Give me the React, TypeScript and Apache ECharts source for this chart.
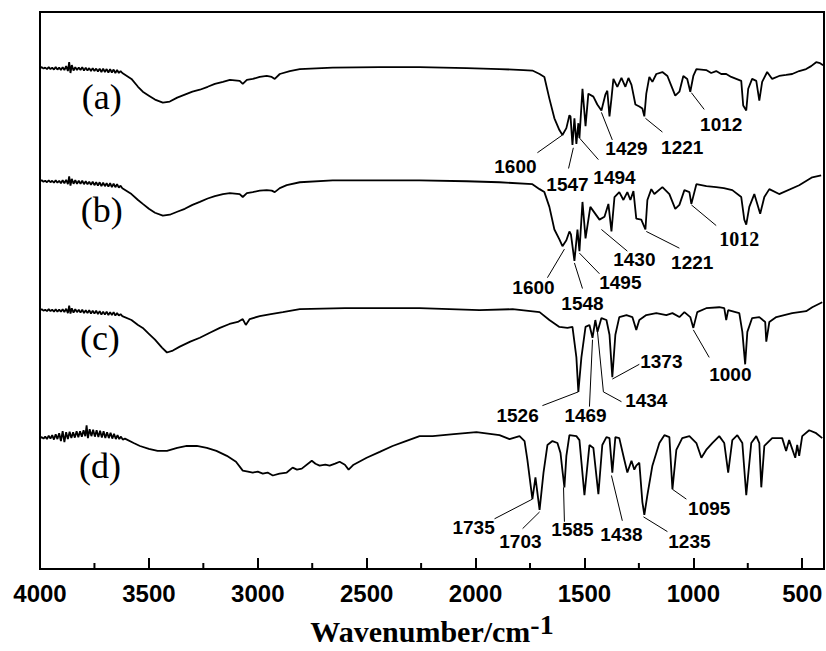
import { useEffect, useRef } from 'react';
import * as echarts from 'echarts';

// x axis: wavenumber (cm-1), inverted; y axis: transmittance (a.u., stacked offsets)
const tickLabels = [4000, 3500, 3000, 2500, 2000, 1500, 1000, 500];
const minorTicks = [3750, 3250, 2750, 2250, 1750, 1250, 750];

const traceA: [number, number][] = [
  [4000,101.8],[3992,102.0],[3984,101.7],[3976,101.9],[3968,101.6],[3960,102.0],[3952,101.6],[3944,101.9],[3936,101.5],[3928,102.0],[3920,101.5],[3912,101.9],[3904,101.4],[3896,102.0],[3888,101.4],[3880,102.2],[3872,101.2],[3866,103.0],[3860,100.8],[3854,102.4],[3846,101.3],[3838,102.0],[3830,101.4],[3822,101.9],[3814,101.4],[3806,102.0],[3798,101.3],[3790,101.9],[3782,101.3],[3774,101.8],[3766,101.2],[3758,101.8],[3750,101.2],[3742,101.7],[3734,101.1],[3726,101.7],[3718,101.0],[3710,101.7],[3702,101.0],[3694,101.6],[3686,100.9],[3678,101.6],[3670,100.9],[3662,101.5],[3654,100.8],[3646,101.4],[3638,100.8],[3630,101.2],[3622,100.8],
  [3580,99.6],[3550,98.0],[3528,97.0],[3500,96.2],[3472,95.4],[3436,94.8],[3404,95.0],[3370,95.8],[3335,96.4],[3300,97.0],[3266,97.4],[3230,98.0],[3197,98.6],[3160,99.0],[3128,99.4],[3083,99.2],[3069,98.6],[3050,99.4],[3023,99.6],[2991,100.0],[2959,100.2],[2936,100.0],[2922,99.6],[2899,100.6],[2853,101.2],[2807,101.6],[2656,101.9],[2440,102.0],[2257,102.0],[2041,101.8],[1890,101.6],[1780,101.4],[1739,101.3],[1706,100.6],[1684,100.0],[1661,95.6],[1638,91.6],[1615,89.2],[1601,88.2],[1583,89.6],[1569,92.2],[1564,92.0],[1555,86.2],[1546,91.6],[1537,86.4],[1528,90.6],[1523,87.6],[1509,97.6],[1495,90.0],[1482,96.6],[1459,96.0],[1441,94.4],[1422,93.2],[1404,96.4],[1395,97.2],[1385,92.0],[1376,95.6],[1367,99.6],[1349,98.0],[1330,99.8],[1312,98.0],[1298,99.8],[1284,98.4],[1266,94.4],[1248,94.0],[1234,93.6],[1225,92.0],[1216,96.6],[1202,100.0],[1188,99.0],[1170,100.6],[1142,101.0],[1119,100.2],[1101,98.2],[1083,96.2],[1064,97.0],[1046,100.2],[1028,99.6],[1014,97.0],[1000,100.2],[986,101.6],[941,101.4],[918,100.8],[895,101.2],[872,100.6],[849,100.6],[826,100.0],[803,99.6],[780,99.2],[771,94.2],[757,93.2],[748,97.6],[730,99.6],[711,99.2],[697,95.2],[684,99.0],[661,101.0],[638,99.6],[606,100.2],[574,100.4],[546,100.6],[514,101.2],[482,101.6],[459,102.2],[436,103.0],[418,102.8],[404,102.4]
];

const traceB: [number, number][] = [
  [4000,78.8],[3992,79.0],[3984,78.7],[3976,78.9],[3968,78.6],[3960,79.0],[3952,78.6],[3944,78.9],[3936,78.5],[3928,79.0],[3920,78.5],[3912,78.9],[3904,78.4],[3896,79.0],[3888,78.4],[3880,79.1],[3872,78.2],[3866,79.8],[3860,77.9],[3854,79.3],[3846,78.3],[3838,79.0],[3830,78.3],[3822,78.9],[3814,78.3],[3806,78.9],[3798,78.2],[3790,78.8],[3782,78.2],[3774,78.7],[3766,78.1],[3758,78.7],[3750,78.0],[3742,78.6],[3734,77.9],[3726,78.6],[3718,77.8],[3710,78.5],[3702,77.8],[3694,78.4],[3686,77.7],[3678,78.4],[3670,77.6],[3662,78.3],[3654,77.6],[3646,78.2],[3638,77.5],[3630,77.9],[3622,77.4],
  [3580,76.2],[3550,75.0],[3528,74.2],[3500,73.2],[3472,72.4],[3436,71.8],[3404,72.0],[3370,72.6],[3335,73.2],[3300,74.0],[3266,74.6],[3230,75.3],[3197,75.8],[3160,76.2],[3128,76.4],[3083,76.2],[3069,75.6],[3050,76.4],[3023,76.6],[2991,76.9],[2959,77.0],[2936,76.9],[2922,76.6],[2899,77.4],[2867,78.0],[2807,78.6],[2656,79.0],[2440,79.0],[2257,79.0],[2041,78.8],[1890,78.6],[1739,78.2],[1706,77.2],[1684,76.6],[1661,73.6],[1638,69.0],[1615,67.0],[1601,65.6],[1583,66.8],[1569,68.6],[1562,68.0],[1546,62.6],[1532,69.0],[1523,64.6],[1509,74.6],[1495,67.2],[1473,73.6],[1431,71.0],[1408,71.6],[1390,74.2],[1376,68.6],[1362,75.6],[1340,76.6],[1321,75.0],[1303,76.6],[1289,75.0],[1275,76.8],[1262,71.2],[1239,71.0],[1220,69.0],[1211,75.0],[1193,77.2],[1179,76.2],[1142,77.6],[1110,76.2],[1083,73.2],[1064,74.0],[1041,77.0],[1018,76.6],[1009,74.2],[986,78.2],[940,77.8],[895,77.6],[860,77.4],[821,77.0],[780,75.6],[766,71.0],[757,70.0],[743,73.6],[720,76.2],[693,72.2],[674,75.6],[651,77.2],[606,76.2],[514,78.0],[454,79.6],[413,80.0]
];

const traceC: [number, number][] = [
  [4000,52.6],[3992,52.8],[3984,52.5],[3976,52.7],[3968,52.4],[3960,52.8],[3952,52.4],[3944,52.7],[3936,52.3],[3928,52.8],[3920,52.3],[3912,52.7],[3904,52.3],[3896,52.8],[3888,52.2],[3880,52.9],[3872,52.0],[3866,53.5],[3860,51.9],[3854,53.0],[3846,52.1],[3838,52.8],[3830,52.2],[3822,52.7],[3814,52.1],[3806,52.7],[3798,52.0],[3790,52.6],[3782,52.0],[3774,52.6],[3766,51.9],[3758,52.5],[3750,51.9],[3742,52.5],[3734,51.8],[3726,52.4],[3718,51.7],[3710,52.3],[3702,51.7],[3694,52.3],[3686,51.6],[3678,52.2],[3670,51.6],[3662,52.2],[3654,51.5],[3646,52.0],[3638,51.5],[3630,51.8],[3622,51.4],
  [3580,50.6],[3550,49.6],[3528,49.0],[3500,47.8],[3472,46.6],[3440,45.0],[3417,44.0],[3390,44.4],[3358,45.2],[3310,46.2],[3266,47.0],[3220,48.0],[3174,49.0],[3130,49.8],[3092,50.2],[3069,50.8],[3055,49.6],[3037,50.8],[2991,51.4],[2940,51.8],[2885,52.2],[2807,52.8],[2600,53.0],[2257,53.0],[1982,52.6],[1830,52.8],[1706,52.2],[1661,50.6],[1615,49.2],[1578,49.0],[1555,49.2],[1537,43.0],[1528,36.0],[1514,43.0],[1495,49.2],[1477,49.6],[1463,47.0],[1450,50.6],[1440,48.2],[1422,51.0],[1399,50.6],[1385,47.6],[1372,39.0],[1358,47.6],[1340,51.2],[1307,51.6],[1280,51.2],[1262,48.6],[1248,50.6],[1216,51.6],[1170,52.0],[1124,51.6],[1096,52.0],[1064,51.2],[1041,52.2],[1014,51.2],[1000,49.0],[982,52.2],[941,53.0],[881,53.2],[858,53.0],[849,50.6],[840,52.6],[789,52.0],[775,48.2],[762,41.6],[752,48.2],[730,51.0],[697,51.2],[670,50.2],[665,46.2],[651,50.2],[619,51.2],[546,52.0],[482,52.4],[454,53.2],[408,54.2]
];

const traceD: [number, number][] = [
  [4000,26.6],[3992,26.8],[3984,26.5],[3976,26.9],[3968,26.4],[3960,27.1],[3952,26.5],[3944,27.2],[3936,26.3],[3928,27.4],[3920,26.4],[3912,27.6],[3904,26.0],[3896,28.0],[3888,25.8],[3880,27.8],[3872,26.4],[3864,27.9],[3856,26.6],[3848,27.8],[3840,26.7],[3832,28.0],[3824,26.8],[3816,28.0],[3808,26.9],[3800,28.2],[3792,27.0],[3786,29.2],[3780,26.6],[3772,28.4],[3764,27.0],[3756,28.3],[3748,26.9],[3740,28.2],[3732,26.8],[3724,28.1],[3716,26.7],[3708,28.0],[3700,26.6],[3692,27.8],[3684,26.6],[3676,27.7],[3668,26.5],[3660,27.5],[3652,26.4],[3644,27.2],[3636,26.4],[3628,26.9],[3620,26.3],[3610,26.5],
  [3570,25.6],[3541,25.0],[3500,24.4],[3460,24.0],[3417,24.0],[3370,24.6],[3326,25.0],[3280,25.0],[3234,24.6],[3190,24.0],[3142,23.0],[3100,21.8],[3069,20.0],[3045,19.8],[3023,19.6],[3000,19.8],[2977,19.4],[2955,19.6],[2931,19.0],[2900,19.4],[2867,19.6],[2840,20.6],[2820,20.2],[2798,20.4],[2752,22.0],[2735,21.4],[2716,21.0],[2690,21.2],[2670,21.0],[2645,21.4],[2624,21.8],[2600,21.2],[2583,20.2],[2560,21.2],[2500,22.6],[2440,23.8],[2381,25.0],[2320,26.0],[2257,27.0],[2197,27.0],[2100,27.4],[1996,27.8],[1890,27.2],[1844,26.4],[1798,27.0],[1775,26.0],[1762,22.2],[1739,14.2],[1725,18.6],[1706,12.0],[1688,19.6],[1670,25.2],[1647,26.0],[1624,25.6],[1610,23.6],[1601,20.0],[1592,16.6],[1583,23.0],[1569,27.2],[1537,27.0],[1523,26.2],[1500,15.0],[1477,25.2],[1459,24.6],[1436,15.2],[1418,25.2],[1399,26.8],[1385,26.6],[1372,19.6],[1358,26.8],[1340,26.6],[1317,22.2],[1303,19.6],[1284,22.0],[1271,20.2],[1262,21.0],[1248,21.6],[1234,13.6],[1225,11.0],[1211,15.0],[1188,21.0],[1156,25.6],[1133,27.2],[1110,26.8],[1096,16.2],[1078,24.2],[1051,26.6],[1018,27.0],[986,25.6],[963,22.6],[941,24.2],[913,25.6],[881,27.0],[858,25.6],[840,19.6],[821,26.2],[798,27.2],[775,25.6],[757,15.0],[734,25.6],[711,27.0],[697,25.6],[688,16.6],[674,25.0],[638,26.6],[592,26.6],[574,24.0],[560,26.2],[532,22.6],[523,25.2],[514,23.0],[500,27.0],[468,28.2],[436,27.6],[408,26.6]
];

const traceNames = ['(a)', '(b)', '(c)', '(d)'];
const traceNamePos: [number, number][] = [[3716, 96], [3716, 73], [3725, 47], [3725, 21]];

// peak label text, label position [wn, a.u.]
const peakLabels: [string, number, number][] = [
  ['1600', 1817, 81.8], ['1547', 1578, 78.2], ['1494', 1362, 79.6], ['1429', 1307, 85.4], ['1221', 1051, 85.6], ['1012', 872, 90.4],
  ['1600', 1734, 57.2], ['1548', 1509, 54.0], ['1495', 1335, 58.2], ['1430', 1271, 62.8], ['1221', 1005, 62.2],
  ['1526', 1807, 31.2], ['1469', 1495, 31.2], ['1434', 1216, 34.2], ['1373', 1147, 42.2], ['1000', 830, 39.6],
  ['1735', 2009, 8.4], ['1703', 1794, 5.6], ['1585', 1555, 8.0], ['1438', 1330, 7.0], ['1235', 1018, 5.6], ['1095', 927, 12.2]
];
const serifPeakLabels: [string, number, number][] = [['1012', 789, 67.0]];

// leader lines, each a list of [wn, a.u.] points
const leaders: [number, number][][] = [
  [[1716, 84.6], [1601, 88.2]], [[1573, 81.4], [1551, 85.6]], [[1436, 83.2], [1523, 87.6]], [[1372, 87.2], [1422, 92.8]], [[1142, 88.8], [1220, 91.6]], [[950, 93.4], [1009, 96.8]],
  [[1670, 59.2], [1592, 65.0]], [[1509, 57.0], [1546, 62.2]], [[1431, 60.0], [1523, 64.2]], [[1303, 64.6], [1422, 69.0]], [[1064, 65.2], [1216, 68.6]], [[895, 69.8], [1009, 74.0]],
  [[1693, 33.2], [1528, 36.0]], [[1477, 33.0], [1463, 46.6]], [[1440, 48.2], [1413, 36.0], [1330, 34.0]], [[1248, 41.6], [1372, 38.6]], [[927, 43.0], [1000, 48.6]],
  [[1913, 10.2], [1739, 14.2]], [[1784, 8.2], [1706, 11.6]], [[1592, 9.6], [1596, 16.6]], [[1326, 9.8], [1376, 19.0]], [[1119, 7.6], [1229, 10.6]], [[1032, 14.2], [1096, 16.2]]
];

export default function App() {
  const ref = useRef<HTMLDivElement>(null);
  useEffect(() => {
    if (!ref.current) return;
    const chart = echarts.init(ref.current, undefined, { renderer: 'svg' });
    const traces = [traceA, traceB, traceC, traceD];
    const sans = 'Liberation Sans, Arial, sans-serif';
    const serif = 'Liberation Serif, Times New Roman, serif';
    const labelBase = { show: true, position: 'inside', formatter: '{b}', color: '#000', textBorderWidth: 0, textBorderColor: 'transparent', opacity: 1 };
    chart.setOption({
      animation: false,
      backgroundColor: '#fff',
      grid: { left: 40, right: 2, top: 12, bottom: 73, show: true, borderColor: '#000', borderWidth: 2, containLabel: false },
      xAxis: {
        type: 'value', min: 400, max: 4000, inverse: true, position: 'bottom',
        axisLine: { show: true, lineStyle: { color: '#000', width: 2 } },
        axisTick: { show: true, inside: true, length: 11, lineStyle: { color: '#000', width: 2 }, customValues: tickLabels },
        axisLabel: { show: true, customValues: tickLabels, formatter: (v: number) => String(v), color: '#000', fontFamily: sans, fontWeight: 'bold', fontSize: 24, margin: 12 },
        splitLine: { show: false },
        name: '{t|Wavenumber/cm}{s|-1}',
        nameLocation: 'middle',
        nameGap: 41,
        nameTextStyle: {
          rich: {
            t: { fontFamily: serif, fontWeight: 'bold', fontSize: 30, color: '#000' },
            s: { fontFamily: serif, fontWeight: 'bold', fontSize: 28, color: '#000', padding: [0, 0, 14, 0] }
          }
        }
      },
      yAxis: { type: 'value', min: 0, max: 113.2, show: false },
      series: [
        ...traces.map((d) => ({
          type: 'line', data: d, showSymbol: false, symbol: 'none',
          lineStyle: { color: '#000', width: 1.8 }, silent: true
        })),
        {
          type: 'lines', coordinateSystem: 'cartesian2d', polyline: true,
          data: leaders.map((c) => ({ coords: c })),
          lineStyle: { color: '#000', width: 1, opacity: 1 }, silent: true
        },
        {
          type: 'scatter', symbolSize: 1, itemStyle: { color: 'rgba(255,255,255,0)' },
          data: peakLabels.map(([t, x, y]) => ({ name: t, value: [x, y] })),
          label: { ...labelBase, fontFamily: sans, fontWeight: 'bold', fontSize: 19 },
          silent: true
        },
        {
          type: 'scatter', symbolSize: 1, itemStyle: { color: 'rgba(255,255,255,0)' },
          data: serifPeakLabels.map(([t, x, y]) => ({ name: t, value: [x, y] })),
          label: { ...labelBase, fontFamily: serif, fontWeight: 'bold', fontSize: 20 },
          silent: true
        },
        {
          type: 'scatter', symbolSize: 1, itemStyle: { color: 'rgba(255,255,255,0)' },
          data: traceNames.map((t, i) => ({ name: t, value: traceNamePos[i] })),
          label: { ...labelBase, fontFamily: serif, fontWeight: 'normal', fontSize: 36 },
          silent: true
        }
      ]
    });
    // minor inward ticks, positioned through the x axis scale
    const y0 = chart.convertToPixel({ yAxisIndex: 0 }, 0) as number;
    const mk = (v: number, len: number) => {
      const x = chart.convertToPixel({ xAxisIndex: 0 }, v) as number;
      return { type: 'line', z: 100, silent: true, shape: { x1: x, y1: y0, x2: x, y2: y0 - len }, style: { stroke: '#000', lineWidth: 2 } };
    };
    chart.setOption({ graphic: minorTicks.map((v) => mk(v, 6)) });
    return () => chart.dispose();
  }, []);
  return <div ref={ref} style={{ position: 'absolute', left: 0, top: 0, width: 826, height: 651 }} />;
}
